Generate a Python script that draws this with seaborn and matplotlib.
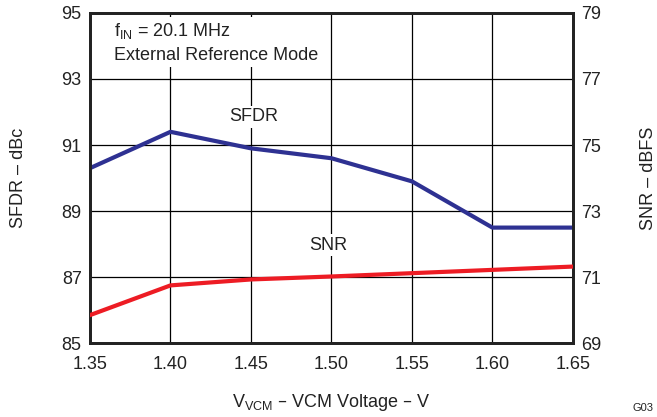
import numpy as np
import pandas as pd
import seaborn as sns
import matplotlib.pyplot as plt

# Values
vcm = [1.35, 1.40, 1.45, 1.50, 1.55, 1.60, 1.65]
sfdr = [90.3, 91.4, 90.9, 90.6, 89.9, 88.5, 88.5]
snr = [69.85, 70.75, 70.93, 71.02, 71.12, 71.22, 71.32]

sns.set_style("white")
plt.rcParams['font.family'] = ['Liberation Sans', 'DejaVu Sans']

fig, ax = plt.subplots(figsize=(6.57, 4.17), dpi=100)
fig.subplots_adjust(left=0.137, right=0.872, top=0.969, bottom=0.177)
ax2 = ax.twinx()

sns.lineplot(x=vcm, y=sfdr, ax=ax, color='#2E3192', linewidth=3, zorder=3)
sns.lineplot(x=vcm, y=snr, ax=ax2, color='#ED1C24', linewidth=3, zorder=3)

ax.set_xlim(1.35, 1.65)
ax.set_ylim(85, 95)
ax2.set_ylim(69, 79)
ax.set_xticks(vcm)
ax.set_xticklabels([f"{v:.2f}" for v in vcm])
ax.set_yticks(np.arange(85, 96, 2))
ax2.set_yticks(np.arange(69, 80, 2))

ax.grid(True, color='black', linewidth=0.9)
ax.set_axisbelow(True)
for a in (ax, ax2):
    for s in a.spines.values():
        s.set_color('#222222')
        s.set_linewidth(2)
    a.tick_params(length=0, labelsize=13, pad=6, colors='#222222')
ax.tick_params(axis='x', pad=9)

ax.set_xlabel('V$_{\\mathregular{VCM}}$ – VCM Voltage – V', fontsize=13, labelpad=14, color='#222222')
ax.set_ylabel('SFDR – dBc', fontsize=13, color='#222222', rotation=90, va='center')
ax2.set_ylabel('SNR – dBFS', fontsize=13, color='#222222', rotation=90, va='center')
ax.yaxis.set_label_coords(-0.149, 0.5)
ax2.yaxis.set_label_coords(1.157, 0.5)

box = dict(facecolor='white', edgecolor='none', pad=2)
ax2.text(0.05, 0.975, 'f$_{\\mathregular{IN}}$ = 20.1 MHz\nExternal Reference Mode',
         transform=ax.transAxes, fontsize=13, va='top', ha='left',
         linespacing=1.45, color='#222222', bbox=box, zorder=5)
ax2.text(1.452, 75.85, 'SFDR', fontsize=13, ha='center', va='center',
         color='#222222', bbox=box, zorder=5)
ax2.text(1.498, 71.97, 'SNR', fontsize=13, ha='center', va='center',
         color='#222222', bbox=box, zorder=5)
fig.text(0.995, 0.01, 'G03', fontsize=8, ha='right', va='bottom', color='#222222')

plt.savefig("out.png", dpi=100)
